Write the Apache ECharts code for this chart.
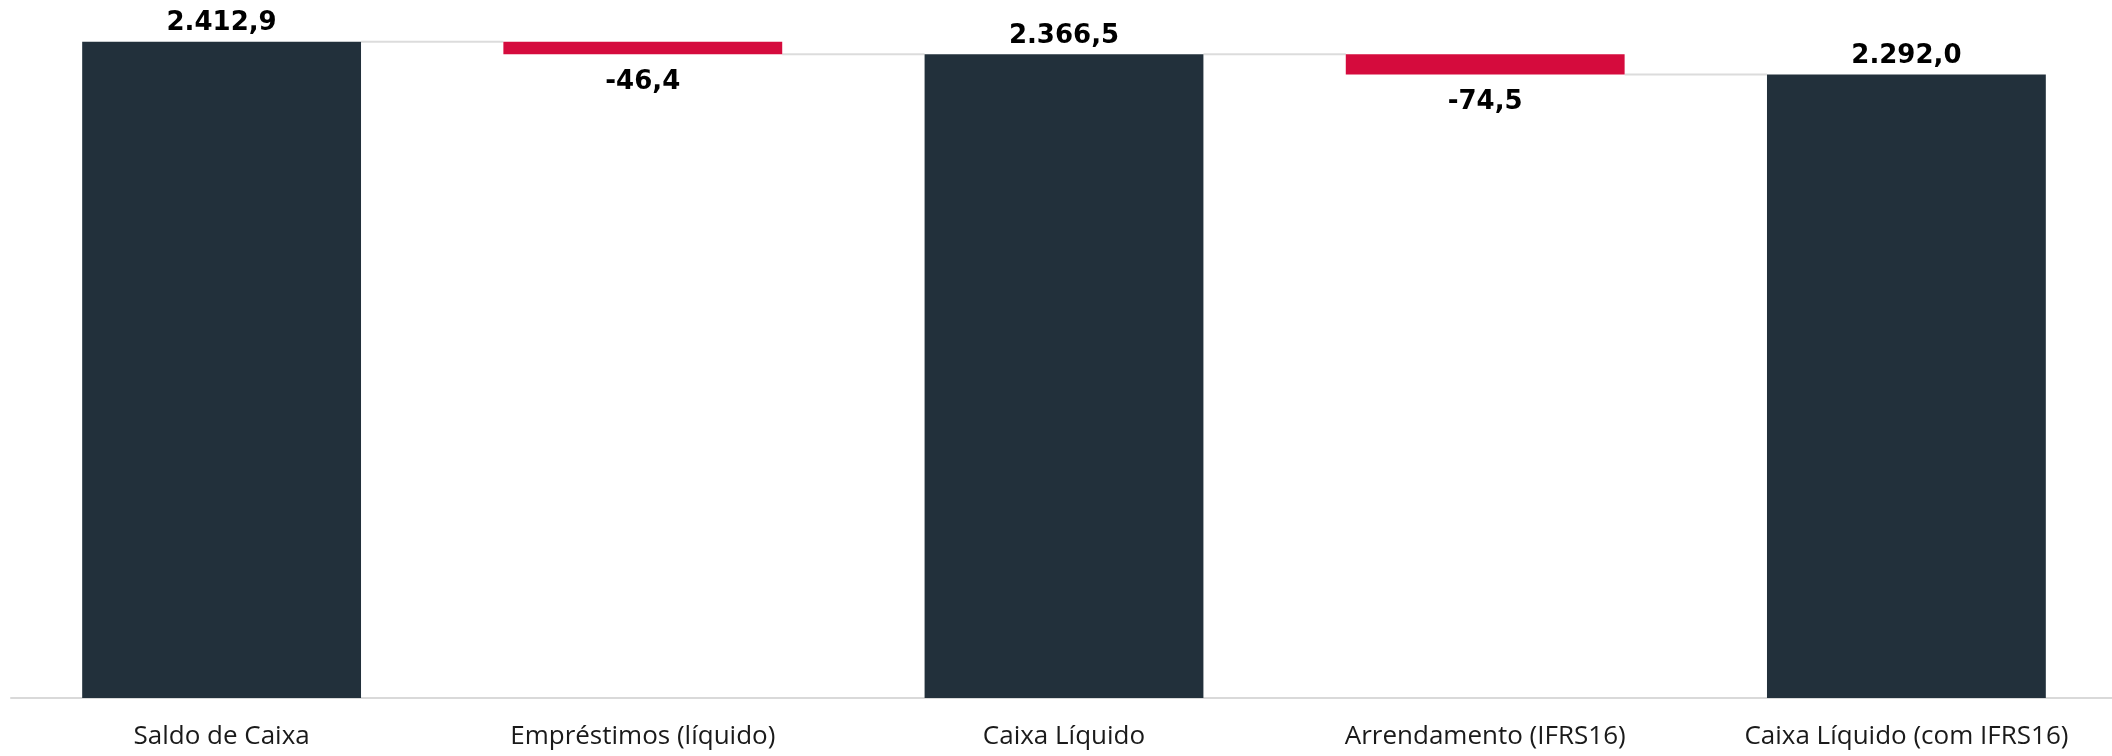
<!DOCTYPE html>
<html>
<head>
<meta charset="utf-8">
<script src="https://cdn.jsdelivr.net/npm/echarts@6/dist/echarts.min.js"></script>
<style>
  html, body { margin: 0; padding: 0; background: #ffffff; overflow: hidden; }
  #chart { width: 2117px; height: 756px; }
</style>
</head>
<body>
<div id="chart"></div>
<script>
// Waterfall: cash balance to net cash (R$ milhões)
const categories = ['Saldo de Caixa', 'Empréstimos (líquido)', 'Caixa Líquido', 'Arrendamento (IFRS16)', 'Caixa Líquido (com IFRS16)'];
// 'total' steps are full bars; 'delta' steps float from the running total
const stepTypes = ['total', 'delta', 'total', 'delta', 'total'];
const stepValues = [2412.9, -46.4, 2366.5, -74.5, 2292.0];

const DARK = '#22303b';
const RED = '#d50b3d';
const LABEL_FONT = '"Open Sans", "Noto Sans", sans-serif';
const VALUE_FONT = '"DejaVu Sans", "Open Sans", sans-serif';

// Portuguese number format: 2.412,9
function fmt(v) {
  const neg = v < 0;
  const parts = Math.abs(v).toFixed(1).split('.');
  const intPart = parts[0].replace(/\B(?=(\d{3})+(?!\d))/g, '.');
  return (neg ? '-' : '') + intPart + ',' + parts[1];
}

// running levels: base (invisible) + visible height for each step
const baseData = [];
const totalData = [];
const deltaData = [];
const levelAfter = [];
let running = 0;
stepValues.forEach((v, i) => {
  if (stepTypes[i] === 'total') {
    running = v;
    baseData.push(0);
    totalData.push(v);
    deltaData.push('-');
  } else {
    const end = running + v;
    baseData.push(Math.min(running, end));
    totalData.push('-');
    deltaData.push(Math.abs(v));
    running = end;
  }
  levelAfter.push(running);
});

const BAR_FRACTION = 0.662;

const valueLabel = {
  show: true,
  fontFamily: VALUE_FONT,
  fontWeight: 'bold',
  fontSize: 26,
  color: '#000000',
  formatter: p => fmt(stepValues[p.dataIndex])
};

const chart = echarts.init(document.getElementById('chart'), null, { renderer: 'canvas' });
chart.setOption({
  animation: false,
  backgroundColor: '#ffffff',
  grid: { left: 11, right: 0, top: 18, bottom: 58, containLabel: false },
  xAxis: {
    type: 'category',
    data: categories,
    axisLine: { show: true, lineStyle: { color: '#d9d9d9', width: 2 } },
    axisTick: { show: false },
    axisLabel: { interval: 0, color: '#1a1a1a', fontFamily: LABEL_FONT, fontSize: 26, margin: 26 }
  },
  yAxis: {
    type: 'value',
    min: 0,
    max: 2500,
    show: false,
    splitLine: { show: false }
  },
  series: [
    {
      name: 'base',
      type: 'bar',
      stack: 'w',
      barWidth: (BAR_FRACTION * 100) + '%',
      itemStyle: { color: 'transparent' },
      emphasis: { disabled: true },
      data: baseData
    },
    {
      name: 'total',
      type: 'bar',
      stack: 'w',
      barWidth: (BAR_FRACTION * 100) + '%',
      itemStyle: { color: DARK },
      label: Object.assign({}, valueLabel, { position: 'top', distance: 5 }),
      data: totalData
    },
    {
      name: 'delta',
      type: 'bar',
      stack: 'w',
      barWidth: (BAR_FRACTION * 100) + '%',
      itemStyle: { color: RED },
      label: Object.assign({}, valueLabel, { position: 'bottom', distance: 15 }),
      data: deltaData
    },
    {
      // connector lines between neighbouring bars at the running level
      name: 'connectors',
      type: 'custom',
      silent: true,
      z: 1,
      data: levelAfter.slice(0, -1).map((lv, i) => [i, lv]),
      renderItem: function (params, api) {
        const i = api.value(0);
        const lv = api.value(1);
        const p0 = api.coord([i, lv]);
        const p1 = api.coord([i + 1, lv]);
        const half = api.size([1, 0])[0] * BAR_FRACTION / 2;
        return {
          type: 'line',
          shape: { x1: p0[0] + half, y1: p0[1], x2: p1[0] - half, y2: p1[1] },
          style: { stroke: '#dcdcdc', lineWidth: 2 }
        };
      }
    }
  ]
});
</script>
</body>
</html>
